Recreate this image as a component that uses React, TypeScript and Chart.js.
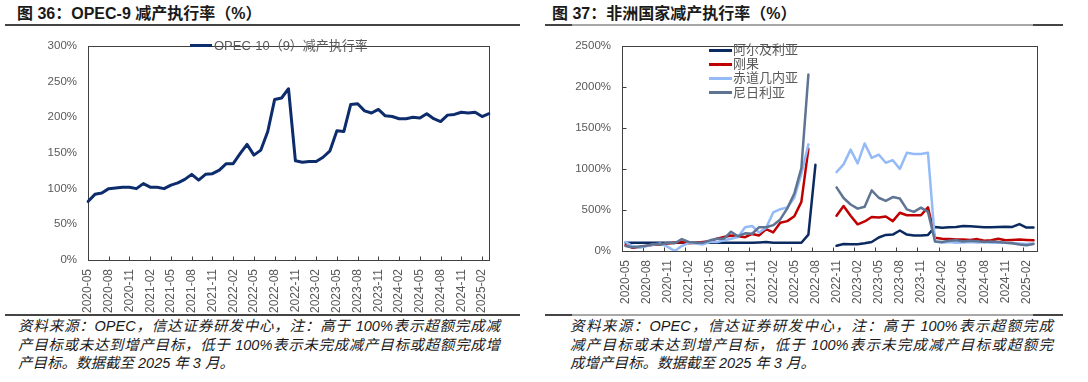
import React, { useEffect, useRef } from "react";
import { Chart, registerables } from "chart.js";
Chart.register(...registerables);

const months = [
  "2020-05","2020-06","2020-07","2020-08","2020-09","2020-10","2020-11","2020-12",
  "2021-01","2021-02","2021-03","2021-04","2021-05","2021-06","2021-07","2021-08","2021-09","2021-10","2021-11","2021-12",
  "2022-01","2022-02","2022-03","2022-04","2022-05","2022-06","2022-07","2022-08","2022-09","2022-10","2022-11","2022-12",
  "2023-01","2023-02","2023-03","2023-04","2023-05","2023-06","2023-07","2023-08","2023-09","2023-10","2023-11","2023-12",
  "2024-01","2024-02","2024-03","2024-04","2024-05","2024-06","2024-07","2024-08","2024-09","2024-10","2024-11","2024-12",
  "2025-01","2025-02","2025-03",
];

// 图36 OPEC-10（9）减产执行率 (%)
const opecRate = [
  82, 92, 94, 100, 101, 102, 102, 100, 107, 102,
  102, 100, 105, 108, 113, 120, 112, 120, 121, 126,
  135, 135, 149, 162, 147, 154, 180, 225, 227, 240,
  139, 137, 138, 138, 144, 153, 181, 180, 218, 219,
  209, 206, 211, 202, 201, 198, 198, 200, 199, 205,
  198, 194, 203, 204, 207, 206, 207, 201, 205,
];

// 图37 非洲国家减产执行率 (%)
const algeria = [
  102, 100, 100, 100, 100, 100, 100, 100, 100, 100,
  100, 100, 100, 100, 100, 100, 100, 100, 100, 105,
  110, 100, 100, 100, 100, 100, 200, 1050, null, null,
  63, 86, 82, 82, 94, 110, 164, 196, 200, 250,
  200, 188, 188, 196, 293, 282, 290, 293, 305, 301,
  297, 290, 290, 293, 297, 293, 328, 286, 286,
];
const congo = [
  70, 40, 50, 65, 75, 80, 90, 100, 110, 95,
  100, 110, 120, 150, 170, 190, 180, 168, 208, 190,
  266, 227, 344, 364, 423, 599, 1245, null, null, null,
  430, 548, 430, 325, 360, 415, 408, 420, 364, 466,
  436, 436, 436, 532, 161, 150, 145, 140, 140, 135,
  145, 125, 130, 150, 130, 135, 140, 135, 130,
];
const eqGuinea = [
  110, 60, 40, 60, 80, 90, 50, 0, 60, 100,
  90, 80, 110, 110, 130, 150, 170, 290, 305, 225,
  285, 470, 510, 530, 650, 940, 1300, null, null, null,
  962, 1056, 1236, 1068, 1311, 1135, 1174, 1076, 1107, 1001,
  1197, 1182, 1182, 1197, 117, 100, 110, 100, 105, 110,
  105, 110, 100, 105, 100, 95, 90, 85, 90,
];
const nigeria = [
  60, 45, 55, 65, 85, 80, 100, 95, 145, 110,
  100, 100, 130, 150, 150, 235, 180, 215, 210, 290,
  290, 315, 385, 520, 700, 1010, 2150, null, null, null,
  775, 646, 567, 516, 540, 739, 649, 610, 657, 640,
  508, 477, 528, 477, 117, 110, 125, 130, 115, 125,
  120, 110, 115, 110, 100, 95, 80, 70, 85,
];

const leftSeriesName = "OPEC-10（9）减产执行率";
const rightSeriesNames = ["阿尔及利亚", "刚果", "赤道几内亚", "尼日利亚"];
const leftTicks = [0, 50, 100, 150, 200, 250, 300];
const rightTicks = [0, 500, 1000, 1500, 2000, 2500];

const NAVY_L = "#0d2c6c";
const COLORS = ["#0b2a5f", "#c00000", "#94bbf7", "#5f7492"];

const TICK_FONT = '"Liberation Sans", Arial, sans-serif';
const CJK_FONT = '"Liberation Sans", Arial, "Noto Sans CJK SC", sans-serif';
const TICK_COLOR = "#595959";
const FRAME_COLOR = "#404040";

const framePlugin = {
  id: "frame",
  beforeDatasetsDraw(chart: any, _args: any, opts: any) {
    const { ctx, chartArea } = chart;
    const xs = chart.scales.x;
    const ys = chart.scales.y;
    ctx.save();
    ctx.strokeStyle = FRAME_COLOR;
    ctx.lineWidth = 1;
    const l = Math.round(chartArea.left) + 0.5;
    const r = Math.round(chartArea.right) + 0.5;
    const t = Math.round(chartArea.top) + 0.5;
    const b = Math.round(chartArea.bottom) + 0.5;
    ctx.strokeRect(l, t, r - l, b - t);
    ctx.beginPath();
    const step = xs.getPixelForValue(1) - xs.getPixelForValue(0);
    for (let i = 0; i < months.length; i += 3) {
      let x = xs.getPixelForValue(i);
      if (opts.offset) x -= step / 2;
      x = Math.round(x) + 0.5;
      ctx.moveTo(x, b);
      ctx.lineTo(x, b - 4);
    }
    if (opts.yTicks) {
      for (const v of opts.yTicks) {
        const y = Math.round(ys.getPixelForValue(v)) + 0.5;
        ctx.moveTo(l, y);
        ctx.lineTo(l + 4, y);
      }
    }
    ctx.stroke();
    ctx.restore();
  },
};

function makeOptions(yMax: number, yStep: number, yWidth: number, xHeight: number, offset: boolean, yTicks: number[] | null) {
  return {
    responsive: false,
    animation: false,
    devicePixelRatio: 1,
    layout: { padding: { left: 0, right: 51, top: 10, bottom: 0 } },
    plugins: {
      legend: { display: false },
      tooltip: { enabled: false },
      frame: { offset, yTicks },
    },
    elements: {
      point: { radius: 0 },
      line: { tension: 0, borderJoinStyle: "round", borderCapStyle: "round" },
    },
    scales: {
      x: {
        type: "category",
        offset,
        grid: { display: false, drawTicks: false },
        border: { display: false },
        ticks: {
          autoSkip: false,
          minRotation: 90,
          maxRotation: 90,
          padding: 9,
          color: TICK_COLOR,
          font: { family: TICK_FONT, size: 12 },
          callback: function (this: any, value: any, index: number) {
            return index % 3 === 0 ? this.getLabelForValue(value) : null;
          },
        },
        afterFit(scale: any) {
          scale.height = xHeight;
        },
      },
      y: {
        min: 0,
        max: yMax,
        grid: { display: false, drawTicks: false },
        border: { display: false },
        ticks: {
          stepSize: yStep,
          padding: 11,
          color: TICK_COLOR,
          font: { family: TICK_FONT, size: 11.5 },
          callback: (v: any) => v + "%",
        },
        afterFit(scale: any) {
          scale.width = yWidth;
        },
      },
    },
  };
}

function LeftChart() {
  const ref = useRef<HTMLCanvasElement | null>(null);
  useEffect(() => {
    const chart = new Chart(ref.current as HTMLCanvasElement, {
      type: "line",
      data: {
        labels: months,
        datasets: [
          { label: leftSeriesName, data: opecRate, borderColor: NAVY_L, borderWidth: 3, fill: false },
        ],
      },
      options: makeOptions(300, 50, 88, 56, false, null) as any,
      plugins: [framePlugin as any],
    });
    return () => chart.destroy();
  }, []);
  return (
    <canvas ref={ref} width={540} height={288}
      style={{ position: "absolute", left: 0, top: 28, width: 540, height: 288 }} />
  );
}

function RightChart() {
  const ref = useRef<HTMLCanvasElement | null>(null);
  useEffect(() => {
    const series = [algeria, congo, eqGuinea, nigeria];
    const chart = new Chart(ref.current as HTMLCanvasElement, {
      type: "line",
      data: {
        labels: months,
        datasets: series.map((d, k) => ({
          label: rightSeriesNames[k],
          data: d,
          borderColor: COLORS[k],
          borderWidth: 2.5,
          fill: false,
          spanGaps: false,
          order: 3 - k,
        })),
      },
      options: makeOptions(2500, 500, 77, 65, true, rightTicks) as any,
      plugins: [framePlugin as any],
    });
    return () => chart.destroy();
  }, []);
  return (
    <canvas ref={ref} width={543} height={288}
      style={{ position: "absolute", left: 545, top: 28, width: 543, height: 288 }} />
  );
}

const abs = (s: React.CSSProperties): React.CSSProperties => ({ position: "absolute", ...s });

function Rule({ x1, x2, y, color }: { x1: number; x2: number; y: number; color: string }) {
  return <div style={abs({ left: x1, top: y, width: x2 - x1, height: 2, background: color })} />;
}

const titleStyle: React.CSSProperties = {
  position: "absolute",
  top: 4,
  fontFamily: CJK_FONT,
  fontWeight: 700,
  fontSize: 16,
  lineHeight: "20px",
  color: "#1a1a1a",
  whiteSpace: "nowrap",
};

const noteStyle: React.CSSProperties = {
  position: "absolute",
  fontFamily: CJK_FONT,
  fontStyle: "italic",
  fontSize: 14.5,
  lineHeight: "18px",
  color: "#1a1a1a",
  whiteSpace: "nowrap",
};

function NoteLine({ x, y, w, text, justify }: { x: number; y: number; w?: number; text: string; justify: boolean }) {
  const s: React.CSSProperties = { ...noteStyle, left: x, top: y - 9 };
  if (justify && w) {
    Object.assign(s, { width: w, textAlign: "justify", textAlignLast: "justify", whiteSpace: "normal", height: 18, overflow: "visible" });
  }
  return <div style={s}>{text}</div>;
}

const legendText: React.CSSProperties = {
  position: "absolute",
  fontFamily: CJK_FONT,
  fontSize: 13,
  lineHeight: "16px",
  color: TICK_COLOR,
  whiteSpace: "nowrap",
};

export default function App() {
  const rightLegendY = [50, 64.3, 78.3, 92.7];
  return (
    <div style={{ position: "fixed", left: 0, top: 0, width: 1088, height: 382, background: "#fff", overflow: "hidden" }}>
      <div style={{ ...titleStyle, left: 17 }}>图 36：OPEC-9 减产执行率（%）</div>
      <div style={{ ...titleStyle, left: 552 }}>图 37：非洲国家减产执行率（%）</div>
      <Rule x1={5} x2={520} y={23.5} color="#444" />
      <Rule x1={545} x2={1063} y={23.5} color="#a8a8a8" />
      <Rule x1={545} x2={572} y={23.5} color="#444" />
      <Rule x1={1033} x2={1063} y={23.5} color="#444" />

      <LeftChart />
      <RightChart />

      {/* left legend */}
      <div style={abs({ left: 190, top: 44, width: 22, height: 3, background: NAVY_L })} />
      <div style={{ ...legendText, left: 214, top: 45.7 - 8 }}>{leftSeriesName}</div>

      {/* right legend */}
      {rightSeriesNames.map((n, k) => (
        <React.Fragment key={n}>
          <div style={abs({ left: 709, top: rightLegendY[k] - 1.5, width: 23, height: 3, background: COLORS[k] })} />
          <div style={{ ...legendText, left: 733, top: rightLegendY[k] - 8 }}>{n}</div>
        </React.Fragment>
      ))}

      <Rule x1={5} x2={520} y={314} color="#444" />
      <Rule x1={545} x2={1063} y={314} color="#a8a8a8" />
      <Rule x1={545} x2={572} y={314} color="#444" />
      <Rule x1={1033} x2={1063} y={314} color="#444" />

      <NoteLine x={18} y={326} w={482} justify text="资料来源：OPEC，信达证券研发中心，注：高于 100%表示超额完成减" />
      <NoteLine x={18} y={345} w={482} justify text="产目标或未达到增产目标，低于 100%表示未完成减产目标或超额完成增" />
      <NoteLine x={18} y={363} justify={false} text="产目标。数据截至 2025 年 3 月。" />

      <NoteLine x={570} y={326} w={483} justify text="资料来源：OPEC，信达证券研发中心，注：高于 100%表示超额完成" />
      <NoteLine x={570} y={345} w={483} justify text="减产目标或未达到增产目标，低于 100%表示未完成减产目标或超额完" />
      <NoteLine x={570} y={363} justify={false} text="成增产目标。数据截至 2025 年 3 月。" />
    </div>
  );
}
